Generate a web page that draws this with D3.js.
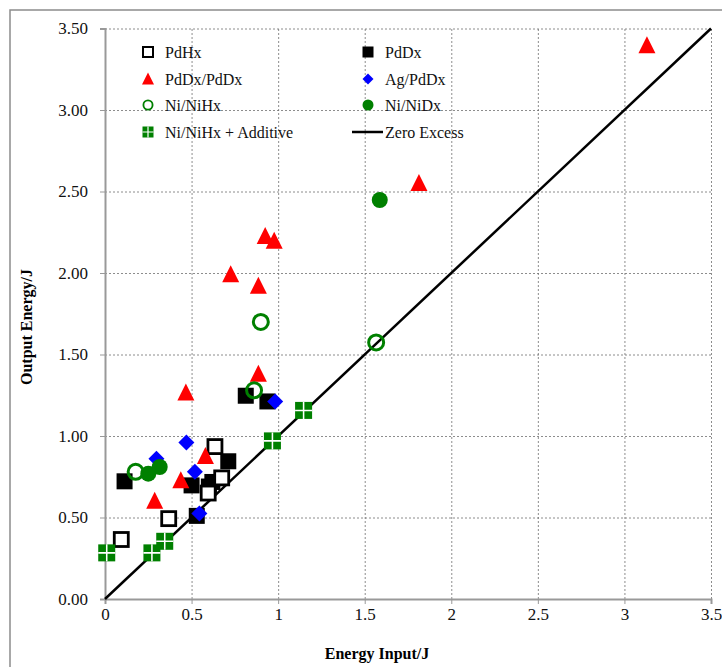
<!DOCTYPE html>
<html>
<head>
<meta charset="utf-8">
<script src="https://cdn.jsdelivr.net/npm/d3@7"></script>
<style>
  body { margin: 0; background: #fff; }
  svg text { font-family: "Liberation Serif", "Times New Roman", serif; }
</style>
</head>
<body>
<div id="chart"></div>
<script>
// tick labels
const xTicks = [0, 0.5, 1, 1.5, 2, 2.5, 3, 3.5];
const yTicks = [0, 0.5, 1, 1.5, 2, 2.5, 3, 3.5];

// series: [energy input, output energy]
const pdHx = [[0.094, 0.365], [0.368, 0.493], [0.596, 0.65], [0.674, 0.743], [0.635, 0.935]];
const pdDx = [[0.113, 0.722], [0.50, 0.697], [0.53, 0.51], [0.60, 0.69], [0.62, 0.718],
  [0.712, 0.845], [0.813, 1.247], [0.938, 1.212]];
const pdDxPdDx = [[0.287, 0.60], [0.438, 0.726], [0.467, 1.265], [0.58, 0.875], [0.726, 1.99],
  [0.886, 1.92], [0.886, 1.38], [0.925, 2.225], [0.977, 2.195], [1.813, 2.55], [3.13, 3.395]];
const agPdDx = [[0.297, 0.86], [0.47, 0.96], [0.519, 0.78], [0.545, 0.525], [0.983, 1.212]];
const niNiHx = [[0.177, 0.78], [0.861, 1.28], [0.90, 1.70], [1.566, 1.574]];
const niNiDx = [[0.25, 0.769], [0.316, 0.81], [1.587, 2.448]];
const niNiHxAdd = [[0.01, 0.283], [0.271, 0.283], [0.345, 0.354], [0.967, 0.97], [1.147, 1.157]];
const zeroExcess = [[0, 0], [3.5, 3.5]];

const W = 722, H = 667;
const svg = d3.select("#chart").append("svg").attr("width", W).attr("height", H);

// outer frame
svg.append("rect").attr("x", 10).attr("y", 10).attr("width", 720).attr("height", 670)
  .attr("fill", "none").attr("stroke", "#8c8c8c").attr("stroke-width", 1.5);

const x = d3.scaleLinear().domain([0, 3.5]).range([105, 711]);
const y = d3.scaleLinear().domain([0, 3.5]).range([599, 28.5]);

// grid
svg.append("g").attr("transform", "translate(0,599)")
  .call(d3.axisBottom(x).tickValues(xTicks.slice(1)).tickSize(-570.5).tickFormat(""))
  .call(g => g.select(".domain").remove())
  .call(g => g.selectAll("line").attr("stroke", "#707070").attr("stroke-dasharray", "2,2").attr("stroke-width", 0.8));
svg.append("g").attr("transform", "translate(105,0)")
  .call(d3.axisLeft(y).tickValues(yTicks.slice(1)).tickSize(-606).tickFormat(""))
  .call(g => g.select(".domain").remove())
  .call(g => g.selectAll("line").attr("stroke", "#707070").attr("stroke-dasharray", "2,2").attr("stroke-width", 0.8));

// axes
const xAxis = svg.append("g").attr("transform", "translate(0,599)")
  .call(d3.axisBottom(x).tickValues(xTicks).tickSize(5).tickPadding(4).tickFormat(d3.format("")));
const yAxis = svg.append("g").attr("transform", "translate(105,0)")
  .call(d3.axisLeft(y).tickValues(yTicks).tickSize(5).tickPadding(12).tickFormat(d3.format(".2f")));
[xAxis, yAxis].forEach(a => {
  a.attr("font-family", null);
  a.select(".domain").attr("stroke", "#999").attr("stroke-width", 2);
  a.selectAll(".tick line").attr("stroke", "#999");
  a.selectAll("text").attr("fill", "#111").style("font-size", "17px")
    .style("font-family", "'Liberation Serif', serif");
});

// axis titles
svg.append("text").attr("x", 377).attr("y", 659).attr("text-anchor", "middle")
  .style("font-size", "16px").style("font-weight", "bold").text("Energy Input/J");
svg.append("text").attr("transform", "translate(32,327) rotate(-90)").attr("text-anchor", "middle")
  .style("font-size", "16px").style("font-weight", "bold").text("Output Energy/J");

// zero excess line
svg.append("path").datum(zeroExcess)
  .attr("d", d3.line().x(d => x(d[0])).y(d => y(d[1])))
  .attr("stroke", "#000").attr("stroke-width", 2.5).attr("fill", "none");

// marker drawing helpers
const drawOpenSquare = (g, s) => g.append("rect").attr("x", -s / 2).attr("y", -s / 2)
  .attr("width", s).attr("height", s).attr("fill", "#fff").attr("stroke", "#000").attr("stroke-width", s / 5);
const drawSquare = (g, s) => g.append("rect").attr("x", -s / 2).attr("y", -s / 2)
  .attr("width", s).attr("height", s).attr("fill", "#000");
const drawTriangle = (g, s) => g.append("path").attr("d", `M0,${-s * 0.55}L${s / 2},${s * 0.45}L${-s / 2},${s * 0.45}Z`)
  .attr("fill", "#ff0000");
const drawDiamond = (g, s) => g.append("path").attr("d", `M0,${-s / 2}L${s / 2},0L0,${s / 2}L${-s / 2},0Z`)
  .attr("fill", "#0000ff");
const drawOpenCircle = (g, s) => g.append("circle").attr("r", s / 2 - s / 12)
  .attr("fill", "none").attr("stroke", "#008000").attr("stroke-width", s / 6);
const drawCircle = (g, s) => g.append("circle").attr("r", s / 2).attr("fill", "#008000");
const drawCrossSquare = (g, s) => {
  g.append("rect").attr("x", -s / 2).attr("y", -s / 2).attr("width", s).attr("height", s).attr("fill", "#008000");
  g.append("path").attr("d", `M0,${-s / 2}V${s / 2}M${-s / 2},0H${s / 2}`)
    .attr("stroke", "#fff").attr("stroke-width", Math.max(1.2, s / 11));
};

const series = [
  { name: "PdHx", data: pdHx, draw: drawOpenSquare, size: 14 },
  { name: "PdDx", data: pdDx, draw: drawSquare, size: 16 },
  { name: "PdDx/PdDx", data: pdDxPdDx, draw: drawTriangle, size: 17 },
  { name: "Ag/PdDx", data: agPdDx, draw: drawDiamond, size: 16 },
  { name: "Ni/NiHx", data: niNiHx, draw: drawOpenCircle, size: 18 },
  { name: "Ni/NiDx", data: niNiDx, draw: drawCircle, size: 16 },
  { name: "Ni/NiHx + Additive", data: niNiHxAdd, draw: drawCrossSquare, size: 17 }
];

// draw order: filled squares under open squares
const order = [1, 0, 2, 3, 4, 5, 6];
order.forEach(i => {
  const s = series[i];
  s.data.forEach(d => {
    const g = svg.append("g").attr("transform", `translate(${x(d[0])},${y(d[1])})`);
    s.draw(g, s.size);
  });
});

// legend
const legendPos = [
  [148, 52], [368, 52], [148, 79], [368, 79], [148, 105], [368, 105], [148, 132]
];
const legendSize = [10, 11, 12, 11, 11, 11, 11];
series.forEach((s, i) => {
  const [lx, ly] = legendPos[i];
  const g = svg.append("g").attr("transform", `translate(${lx},${ly})`);
  s.draw(g, legendSize[i]);
  svg.append("text").attr("x", lx + 17).attr("y", ly + 5.5).style("font-size", "16px").attr("fill", "#111").text(s.name);
});
svg.append("line").attr("x1", 352).attr("x2", 383).attr("y1", 132).attr("y2", 132)
  .attr("stroke", "#000").attr("stroke-width", 2.5);
svg.append("text").attr("x", 385).attr("y", 137.5).style("font-size", "16px").attr("fill", "#111").text("Zero Excess");
</script>
</body>
</html>
